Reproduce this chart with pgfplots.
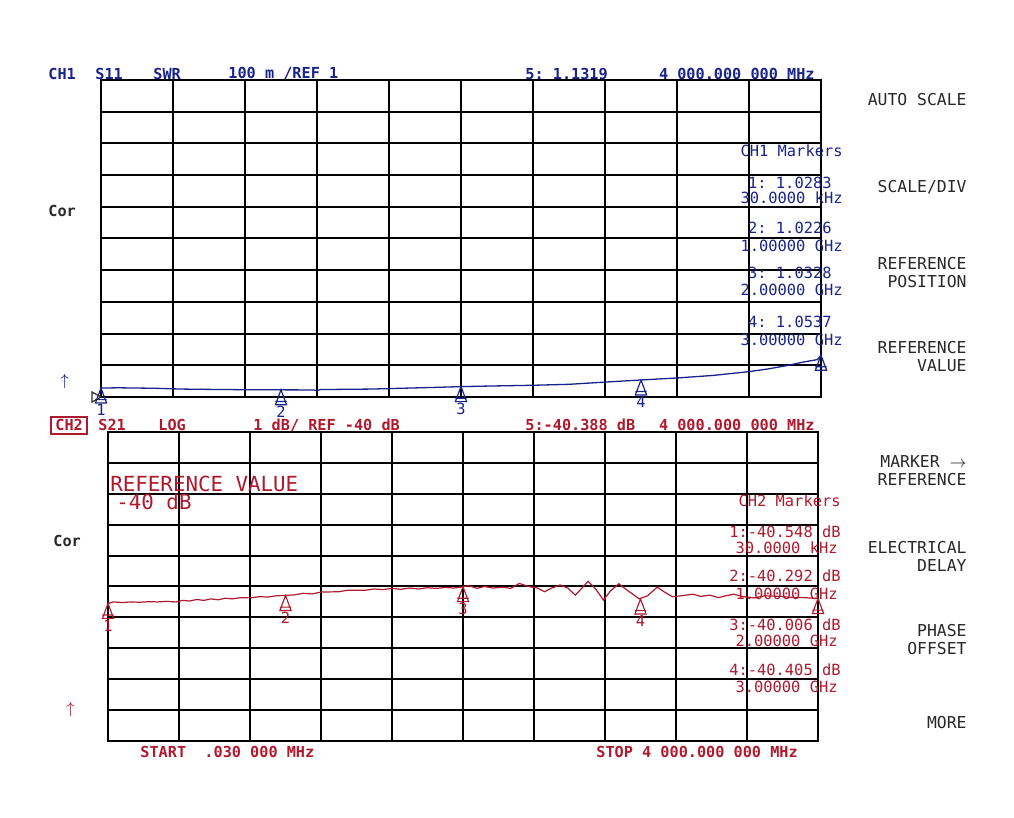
\documentclass[border=0pt]{standalone}
\usepackage{pgfplots}
\pgfplotsset{compat=1.18}
\usepackage{fontspec}
\setmonofont{DejaVu Sans Mono}
\definecolor{chblue}{RGB}{25,35,140}
\definecolor{chred}{RGB}{175,25,45}
\definecolor{keyblk}{RGB}{40,40,40}

% marker triangle with its tip on the data point
\pgfdeclareplotmark{mkr}{%
  \pgfpathmoveto{\pgfpoint{0pt}{0pt}}%
  \pgfpathlineto{\pgfpoint{-2.8pt}{-7.5pt}}%
  \pgfpathlineto{\pgfpoint{2.8pt}{-7.5pt}}%
  \pgfpathclose
  \pgfpathmoveto{\pgfpoint{-2.8pt}{-5.8pt}}%
  \pgfpathlineto{\pgfpoint{2.8pt}{-5.8pt}}%
  \pgfusepathqstroke}

\pgfplotsset{
  vna/.style={
    scale only axis,
    anchor=south west,
    xmin=0, xmax=4000,
    xtick={0,400,...,4000},
    xticklabels={}, yticklabels={},
    major tick length=0pt,
    grid=major,
    grid style={black, line width=1pt},
    axis line style={black, line width=1pt},
    clip=false,
  },
}

\tikzset{
  t/.style={inner sep=0pt, font=\ttfamily\fontsize{7.7}{8}\selectfont},
  tb/.style={inner sep=0pt, font=\ttfamily\bfseries\fontsize{7.6}{8}\selectfont},
  k/.style={inner sep=0pt, font=\ttfamily\fontsize{8.2}{9}\selectfont, keyblk, align=right},
}

\begin{document}
\begin{tikzpicture}[x=0.5pt, y=-0.5pt]
\path[use as bounding box, fill=white] (0,0) rectangle (1014,818);

% ---------- CH1 : S11 SWR ----------
\begin{axis}[vna, at={(50.5pt,-198.5pt)}, width=360pt, height=158.5pt,
  ymin=1, ymax=2, ytick={1,1.1,1.2,1.3,1.4,1.5,1.6,1.7,1.8,1.9,2}]
\addplot[chblue, line width=0.65pt] coordinates {
 (0.03,1.0283) (100,1.0290) (300,1.0275) (450,1.0250) (600,1.0240)
 (800,1.0230) (1000,1.0226) (1180,1.0222) (1200,1.0200) (1220,1.0235)
 (1500,1.0250) (1700,1.0280) (1900,1.0310) (2000,1.0328) (2200,1.0350)
 (2400,1.0370) (2600,1.0400) (2800,1.0470) (3000,1.0537) (3200,1.0600)
 (3400,1.0680) (3600,1.0800) (3700,1.0880) (3800,1.0980) (3900,1.1100)
 (3980,1.1180) (4000,1.1319)};
\addplot[chblue, only marks, mark=mkr, mark options={line width=0.6pt}] coordinates {
 (0.03,1.0283) (1000,1.0226) (2000,1.0328) (3000,1.0537) (4000,1.1319)};
\node[t, chblue, anchor=north] at (axis cs:0.03,1.0283) [yshift=-8pt] {1};
\node[t, chblue, anchor=north] at (axis cs:1000,1.0226) [yshift=-8pt] {2};
\node[t, chblue, anchor=north] at (axis cs:2000,1.0328) [yshift=-8pt] {3};
\node[t, chblue, anchor=north] at (axis cs:3000,1.0537) [yshift=-8pt] {4};
\end{axis}

% ---------- CH2 : S21 LOG ----------
\begin{axis}[vna, at={(54pt,-370.5pt)}, width=355pt, height=154.5pt,
  ymin=-45, ymax=-35, ytick={-45,-44,...,-35}]
\addplot[chred, line width=0.6pt] coordinates {
 (0.03,-40.55) (30,-40.50) (80,-40.52) (130,-40.50) (180,-40.51) (230,-40.49)
 (280,-40.50) (330,-40.48) (380,-40.50) (420,-40.45) (460,-40.47) (500,-40.42)
 (540,-40.45) (580,-40.40) (620,-40.43) (660,-40.38) (700,-40.40) (750,-40.36)
 (800,-40.37) (850,-40.33) (900,-40.34) (950,-40.30) (1000,-40.29) (1050,-40.27)
 (1100,-40.22) (1150,-40.24) (1200,-40.18) (1300,-40.17) (1350,-40.12) (1450,-40.12)
 (1500,-40.08) (1550,-40.10) (1600,-40.06) (1650,-40.09) (1700,-40.05) (1750,-40.08)
 (1800,-40.04) (1850,-40.06) (1900,-40.03) (1950,-40.05) (2000,-40.01) (2030,-39.97)
 (2080,-40.06) (2120,-40.00) (2170,-40.05) (2220,-40.02) (2270,-40.06) (2317,-39.90)
 (2370,-40.00) (2420,-40.05) (2460,-40.17) (2500,-40.05) (2547,-39.95) (2590,-40.05)
 (2633,-40.28) (2670,-40.05) (2705,-39.83) (2750,-40.10) (2791,-40.44) (2830,-40.15)
 (2878,-39.91) (2920,-40.10) (2950,-40.22) (2993,-40.40) (3040,-40.30) (3094,-40.02)
 (3140,-40.20) (3180,-40.33) (3230,-40.30) (3295,-40.25) (3340,-40.32) (3390,-40.28)
 (3439,-40.36) (3480,-40.30) (3525,-40.25) (3580,-40.33) (3640,-40.37) (3700,-40.30)
 (3784,-40.32) (3850,-40.35) (3920,-40.36) (4000,-40.388)};
\addplot[chred, only marks, mark=mkr, mark options={line width=0.55pt}] coordinates {
 (0.03,-40.548) (1000,-40.292) (2000,-40.006) (3000,-40.405) (4000,-40.388)};
\node[t, chred, anchor=north] at (axis cs:0.03,-40.548) [yshift=-8pt] {1};
\node[t, chred, anchor=north] at (axis cs:1000,-40.292) [yshift=-8pt] {2};
\node[t, chred, anchor=north] at (axis cs:2000,-40.006) [yshift=-8pt] {3};
\node[t, chred, anchor=north] at (axis cs:3000,-40.405) [yshift=-8pt] {4};
\end{axis}

% ---------- CH1 header ----------
\node[tb, chblue, anchor=west] at (48,74) {CH1};
\node[tb, chblue, anchor=west] at (95,74) {S11};
\node[tb, chblue, anchor=west] at (153,74) {SWR};
\node[tb, chblue, anchor=west] at (228,74) {100 m /REF 1};
\node[tb, chblue, anchor=west] at (525,74) {5: 1.1319};
\node[tb, chblue, anchor=east] at (815,74) {4 000.000 000 MHz};
\node[tb, keyblk, anchor=west] at (48,211) {Cor};
\node[tb, chblue, anchor=west] at (60,382) {$\uparrow$};
\draw[keyblk, line width=0.6pt] (92,392) -- (101,397) -- (92,402) -- cycle;

% CH1 marker list
\node[t, chblue, anchor=east] at (843,151) {CH1 Markers};
\node[t, chblue, anchor=east] at (832,183) {1: 1.0283};
\node[t, chblue, anchor=east] at (843,198) {30.0000 kHz};
\node[t, chblue, anchor=east] at (832,228) {2: 1.0226};
\node[t, chblue, anchor=east] at (843,246) {1.00000 GHz};
\node[t, chblue, anchor=east] at (832,273) {3: 1.0328};
\node[t, chblue, anchor=east] at (843,290) {2.00000 GHz};
\node[t, chblue, anchor=east] at (832,322) {4: 1.0537};
\node[t, chblue, anchor=east] at (843,340) {3.00000 GHz};

% ---------- CH2 header ----------
\node[tb, chred, anchor=west] at (55,425) {CH2};
\draw[chred, line width=0.8pt] (51,417) rectangle (87,434);
\node[tb, chred, anchor=west] at (98,425) {S21};
\node[tb, chred, anchor=west] at (158,425) {LOG};
\node[tb, chred, anchor=west] at (253,425) {1 dB/ REF -40 dB};
\node[tb, chred, anchor=west] at (525,425) {5:-40.388 dB};
\node[tb, chred, anchor=east] at (815,425) {4 000.000 000 MHz};
\node[tb, keyblk, anchor=west] at (53,541) {Cor};
\node[tb, chred, anchor=west] at (66,710) {$\uparrow$};

\node[inner sep=0pt, chred, anchor=west, font=\ttfamily\fontsize{10.4}{11}\selectfont] at (110,484) {REFERENCE VALUE};
\node[inner sep=0pt, chred, anchor=west, font=\ttfamily\fontsize{10.4}{11}\selectfont] at (116,502) {-40 dB};

% CH2 marker list
\node[t, chred, anchor=east] at (841,501) {CH2 Markers};
\node[t, chred, anchor=east] at (841,532) {1:-40.548 dB};
\node[t, chred, anchor=east] at (838,548) {30.0000 kHz};
\node[t, chred, anchor=east] at (841,576) {2:-40.292 dB};
\node[t, chred, anchor=east] at (838,594) {1.00000 GHz};
\node[t, chred, anchor=east] at (841,625) {3:-40.006 dB};
\node[t, chred, anchor=east] at (838,641) {2.00000 GHz};
\node[t, chred, anchor=east] at (841,670) {4:-40.405 dB};
\node[t, chred, anchor=east] at (838,687) {3.00000 GHz};

% start / stop
\node[tb, chred, anchor=west] at (140,752) {START \ .030 000 MHz};
\node[tb, chred, anchor=west] at (596,752) {STOP 4 000.000 000 MHz};

% ---------- softkeys ----------
\node[k, anchor=east] at (967,100) {AUTO SCALE};
\node[k, anchor=east] at (967,187) {SCALE/DIV};
\node[k, anchor=east] at (967,273) {REFERENCE\\POSITION};
\node[k, anchor=east] at (967,357) {REFERENCE\\VALUE};
\node[k, anchor=east] at (967,471) {MARKER $\rightarrow$\\REFERENCE};
\node[k, anchor=east] at (967,556) {ELECTRICAL\\DELAY};
\node[k, anchor=east] at (967,640) {PHASE\\OFFSET};
\node[k, anchor=east] at (967,723) {MORE};
\end{tikzpicture}
\end{document}
